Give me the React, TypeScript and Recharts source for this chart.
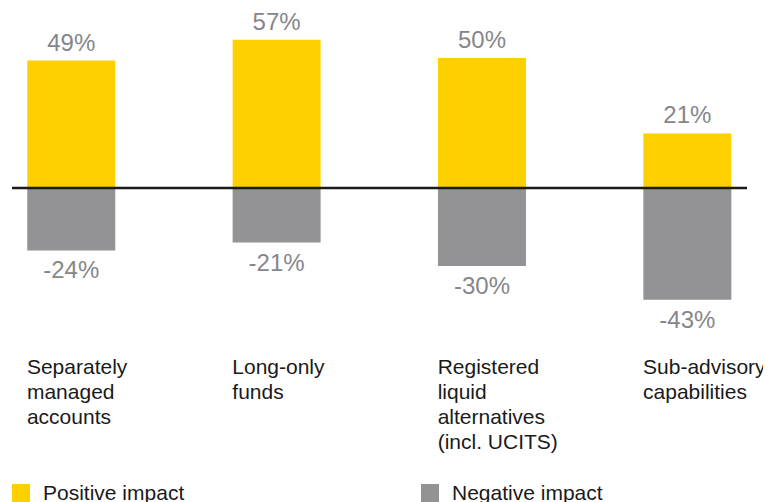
import { Bar, BarChart, LabelList, Legend, ReferenceLine, XAxis, YAxis } from "recharts"

const categories = [
  "Separately managed accounts",
  "Long-only funds",
  "Registered liquid alternatives (incl. UCITS)",
  "Sub-advisory capabilities",
]
const categoryLines = [
  ["Separately", "managed", "accounts"],
  ["Long-only", "funds"],
  ["Registered", "liquid", "alternatives", "(incl. UCITS)"],
  ["Sub-advisory", "capabilities"],
]
const positiveImpact = [49, 57, 50, 21]
const negativeImpact = [-24, -21, -30, -43]

const YELLOW = "#FFD000"
const GREY = "#939396"
const LABEL_GREY = "#86868a"
const FONT = "'Liberation Sans', Arial, sans-serif"
const BAR_SIZE = 88

const chartData = categories.map((name, i) => ({
  idx: i,
  name,
  positive: positiveImpact[i],
  negative: negativeImpact[i],
}))

function CategoryTick(props: any) {
  const { x, y, payload } = props
  const lines = categoryLines[payload.value] ?? []
  return (
    <text x={x - BAR_SIZE / 2} y={y + 28} fill="#1a1a1a" fontSize={21} fontFamily={FONT}>
      {lines.map((line, i) => (
        <tspan key={i} x={x - BAR_SIZE / 2} dy={i === 0 ? 0 : 25}>
          {line}
        </tspan>
      ))}
    </text>
  )
}

function ValueLabel(props: any) {
  const { x, y, width, height, value } = props
  const top = Math.min(y, y + height)
  const bottom = Math.max(y, y + height)
  const ty = value >= 0 ? top - 10 : bottom + 28
  return (
    <text
      x={x + width / 2}
      y={ty}
      textAnchor="middle"
      fill={LABEL_GREY}
      fontSize={24}
      fontFamily={FONT}
    >
      {value}%
    </text>
  )
}

function LegendContent() {
  const items = [
    { label: "Positive impact", color: YELLOW, left: 4 },
    { label: "Negative impact", color: GREY, left: 413 },
  ]
  return (
    <div style={{ position: "relative", height: 28, fontFamily: FONT }}>
      {items.map((it) => (
        <div key={it.label} style={{ position: "absolute", left: it.left, top: 0 }}>
          <div
            style={{
              position: "absolute",
              left: 0,
              top: 2,
              width: 18,
              height: 18,
              background: it.color,
            }}
          />
          <div
            style={{
              position: "absolute",
              left: 31,
              top: 0,
              fontSize: 21,
              lineHeight: "21px",
              whiteSpace: "nowrap",
              color: "#1a1a1a",
            }}
          >
            {it.label}
          </div>
        </div>
      ))}
    </div>
  )
}

export default function App() {
  return (
    <BarChart
      width={763}
      height={494}
      data={chartData}
      stackOffset="sign"
      margin={{ top: 11, right: 24, left: 4, bottom: 100 }}
    >
      <XAxis
        type="number"
        dataKey="idx"
        domain={[-0.287, 3.292]}
        ticks={[0, 1, 2, 3]}
        height={30}
        axisLine={false}
        tickLine={false}
        tickSize={0}
        tick={<CategoryTick />}
        interval={0}
        allowDataOverflow
      />
      <YAxis hide domain={[-60, 65]} allowDataOverflow />
      <Bar dataKey="positive" stackId="a" fill={YELLOW} barSize={BAR_SIZE} isAnimationActive={false}>
        <LabelList dataKey="positive" content={<ValueLabel />} />
      </Bar>
      <Bar dataKey="negative" stackId="a" fill={GREY} barSize={BAR_SIZE} isAnimationActive={false}>
        <LabelList dataKey="negative" content={<ValueLabel />} />
      </Bar>
      <ReferenceLine y={0} stroke="#1a1a1a" strokeWidth={2.5} />
      <Legend
        content={<LegendContent />}
        wrapperStyle={{ position: "absolute", left: 0, top: 474, width: 763 }}
      />
    </BarChart>
  )
}
